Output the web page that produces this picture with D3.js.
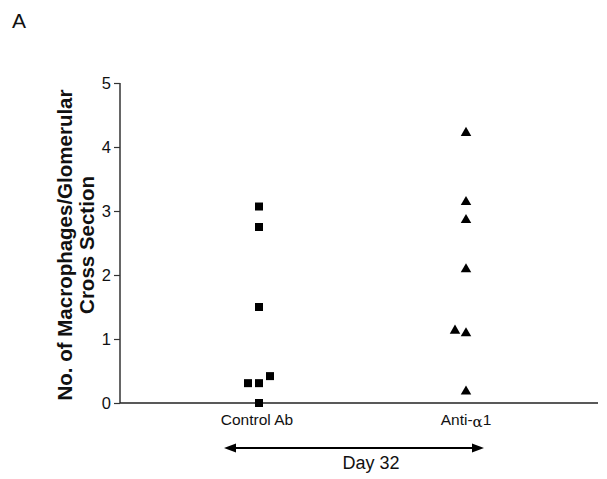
<!DOCTYPE html>
<html>
<head>
<meta charset="utf-8">
<script src="https://cdn.jsdelivr.net/npm/d3@7"></script>
<style>
  body { margin: 0; background: #fff; }
  svg { display: block; }
</style>
</head>
<body>
<div id="chart"></div>
<script>
// groups on the x axis
var groups = ['Control Ab', 'Anti-α1'];

// control antibody: values and side-by-side slot (for overlapping points)
var controlValues = [3.07, 2.75, 1.5, 0.31, 0.31, 0.42, 0.0];
var controlSlots  = [0, 0, 0, -1, 0, 1, 0];

// anti-alpha1: values and slots
var antiValues = [4.22, 3.14, 2.86, 2.09, 1.13, 1.09, 0.18];
var antiSlots  = [0, 0, 0, 0, -1, 0, 0];

var yTicks = [0, 1, 2, 3, 4, 5];

var attrs = {
  svgWidth: 607,
  svgHeight: 479,
  axisLeft: 120,
  axisRight: 598,
  yTop: 83,
  yBottom: 403,
  slotGap: 11,
  font: '"Liberation Sans", Arial, Helvetica, sans-serif',
  ink: '#111'
};

var svg = d3.select('#chart').append('svg')
  .attr('width', attrs.svgWidth)
  .attr('height', attrs.svgHeight)
  .attr('font-family', attrs.font);

var y = d3.scaleLinear().domain([0, 5]).range([attrs.yBottom, attrs.yTop]);
var x = d3.scalePoint().domain(groups).range([259, 466]);

// panel letter
svg.append('text')
  .attr('x', 12).attr('y', 28)
  .attr('font-size', 21)
  .attr('fill', attrs.ink)
  .text('A');

// y axis
var yAxis = svg.append('g')
  .attr('transform', 'translate(' + attrs.axisLeft + ',0)')
  .call(d3.axisLeft(y).tickValues(yTicks).tickSize(6).tickPadding(3).tickFormat(d3.format('d')));
yAxis.select('.domain').attr('stroke', '#333').attr('stroke-width', 1.5).attr('d', 'M0,' + attrs.yTop + 'V' + attrs.yBottom);
yAxis.selectAll('.tick line').attr('stroke', '#333').attr('stroke-width', 1.2);
yAxis.selectAll('.tick text').attr('font-size', 16.5).attr('fill', attrs.ink).attr('font-family', attrs.font);

// x axis baseline
svg.append('line')
  .attr('x1', attrs.axisLeft).attr('x2', attrs.axisRight)
  .attr('y1', y(0)).attr('y2', y(0))
  .attr('stroke', '#222').attr('stroke-width', 1.5);

// category labels
svg.append('text')
  .attr('x', x(groups[0]) - 2).attr('y', 425)
  .attr('text-anchor', 'middle').attr('font-size', 15.5).attr('fill', attrs.ink)
  .text(groups[0]);

var anti = svg.append('text')
  .attr('x', x(groups[1])).attr('y', 425)
  .attr('text-anchor', 'middle').attr('font-size', 15.5).attr('fill', attrs.ink);
anti.append('tspan').text('Anti-');
anti.append('tspan').attr('font-family', '"DejaVu Serif", serif').attr('font-size', 15).attr('dy', 1.5).text('α');
anti.append('tspan').attr('dy', -1.5).text('1');

// y title
var yTitle = svg.append('text')
  .attr('transform', 'translate(72,245) rotate(-90)')
  .attr('text-anchor', 'middle')
  .attr('font-size', 20.5)
  .attr('font-weight', 'bold')
  .attr('fill', attrs.ink);
yTitle.append('tspan').attr('x', 0).attr('dy', 0).text('No. of Macrophages/Glomerular');
yTitle.append('tspan').attr('x', 0).attr('dy', 22).text('Cross Section');

// control points: squares
var sq = 8;
svg.append('g').selectAll('rect')
  .data(controlValues.map(function(v, i) { return { v: v, s: controlSlots[i] }; }))
  .enter().append('rect')
  .attr('x', function(d) { return x(groups[0]) + d.s * attrs.slotGap - sq / 2; })
  .attr('y', function(d) { return y(d.v) - sq / 2; })
  .attr('width', sq).attr('height', sq)
  .attr('fill', '#000');

// anti-alpha1 points: triangles
var tri = d3.symbol().type(d3.symbolTriangle).size(48);
svg.append('g').selectAll('path')
  .data(antiValues.map(function(v, i) { return { v: v, s: antiSlots[i] }; }))
  .enter().append('path')
  .attr('d', tri)
  .attr('transform', function(d) {
    return 'translate(' + (x(groups[1]) + d.s * attrs.slotGap) + ',' + y(d.v) + ')';
  })
  .attr('fill', '#000');

// double-headed arrow under the groups
var arrowY = 448, ax1 = 224, ax2 = 484;
svg.append('line')
  .attr('x1', ax1 + 6).attr('x2', ax2 - 6)
  .attr('y1', arrowY).attr('y2', arrowY)
  .attr('stroke', '#000').attr('stroke-width', 2);
svg.append('path')
  .attr('d', 'M' + ax1 + ',' + arrowY + 'l12,-4.5v9z')
  .attr('fill', '#000');
svg.append('path')
  .attr('d', 'M' + ax2 + ',' + arrowY + 'l-12,-4.5v9z')
  .attr('fill', '#000');

svg.append('text')
  .attr('x', 371).attr('y', 469)
  .attr('text-anchor', 'middle').attr('font-size', 18).attr('fill', attrs.ink)
  .text('Day 32');
</script>
</body>
</html>
